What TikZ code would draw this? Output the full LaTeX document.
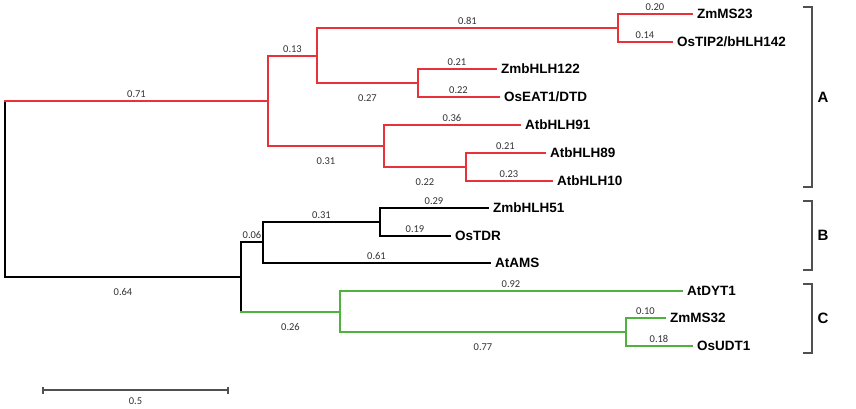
\documentclass[tikz,border=0pt]{standalone}
\usepackage{fontspec}
\setmainfont{Liberation Sans}
\newfontfamily\numfont{Carlito}
\usetikzlibrary{arrows.meta}
\definecolor{cladeA}{RGB}{232,50,58}
\definecolor{cladeC}{RGB}{77,179,61}
\definecolor{brkgray}{RGB}{80,80,80}
\definecolor{numgray}{RGB}{50,50,50}
\newcommand{\branch}[5]{%
  % parent, child, colour, branch length, side of the length (up/down).
  \draw[edge,#3] (#1 |- #2) -- node[#5] (len-#2) {#4} (#2);
}
\newcommand{\spine}[4]{%
  % node, upper child, lower child, colour.
  \draw[edge,#4] (#1 |- #2) -- (#1 |- #3);
}
\begin{document}
\begin{tikzpicture}[x=1pt,y=-1pt,
  edge/.style={line width=1.5pt,line cap=rect},
  leaf/.style={anchor=west,inner xsep=5pt,inner ysep=0pt,text height=9.7pt,text depth=0pt,
    font=\fontsize{13.5}{14}\selectfont\bfseries},
  num/.style={inner sep=0pt,text=numgray,font=\numfont\fontsize{10.5}{11}\selectfont},
  up/.style={num,yshift=7pt},
  down/.style={num,yshift=-15pt},
  bracket/.style={draw=brkgray,line width=1.5pt},
  cladelabel/.style={font=\fontsize{15}{16}\selectfont\bfseries},
  scalebar/.style={draw=brkgray,line width=1.6pt,{Bar[width=7pt]}-{Bar[width=7pt]}}]
  \useasboundingbox (0,0) rectangle (856,408);
  % internal nodes
  \coordinate (root) at (5,189);
  \coordinate (nA) at (268,101);
  \coordinate (n13) at (317,56);
  \coordinate (nMS) at (618,28);
  \coordinate (nEAT) at (418,83);
  \coordinate (n31) at (384,146);
  \coordinate (nBH) at (466,167);
  \coordinate (nBC) at (241,277);
  \coordinate (nB) at (263,242);
  \coordinate (nTDR) at (380,222);
  \coordinate (nC) at (340,312);
  \coordinate (nMS32) at (626,332);
  % leaves
  \foreach \id/\x/\y/\txt in {ZmMS23/692/14/ZmMS23,OsTIP2/672/42/{OsTIP2/bHLH142},
      ZmbHLH122/496/69/ZmbHLH122,OsEAT1/499/97/{OsEAT1/DTD},AtbHLH91/520/125/AtbHLH91,
      AtbHLH89/545/153/AtbHLH89,AtbHLH10/552/181/AtbHLH10,ZmbHLH51/488/208/ZmbHLH51,
      OsTDR/450/236/OsTDR,AtAMS/490/263/AtAMS,AtDYT1/682/291/AtDYT1,
      ZmMS32/665/318/ZmMS32,OsUDT1/692/346/OsUDT1}{%
    \node[leaf] (\id) at (\x,\y) {\txt};
  }
  \foreach \n/\a/\b/\col in {root/nA/nBC/black,nA/n13/n31/cladeA,n13/nMS/nEAT/cladeA,
      nMS/ZmMS23/OsTIP2/cladeA,nEAT/ZmbHLH122/OsEAT1/cladeA,n31/AtbHLH91/nBH/cladeA,
      nBH/AtbHLH89/AtbHLH10/cladeA,nBC/nB/nC/black,nB/nTDR/AtAMS/black,
      nTDR/ZmbHLH51/OsTDR/black,nC/AtDYT1/nMS32/cladeC,nMS32/ZmMS32/OsUDT1/cladeC}{%
    \spine{\n}{\a}{\b}{\col}
  }
  \foreach \p/\c/\col/\len/\side in {root/nA/cladeA/0.71/up,nA/n13/cladeA/0.13/up,
      n13/nMS/cladeA/0.81/up,nMS/ZmMS23/cladeA/0.20/up,nMS/OsTIP2/cladeA/0.14/up,
      n13/nEAT/cladeA/0.27/down,nEAT/ZmbHLH122/cladeA/0.21/up,nEAT/OsEAT1/cladeA/0.22/up,
      nA/n31/cladeA/0.31/down,n31/AtbHLH91/cladeA/0.36/up,n31/nBH/cladeA/0.22/down,
      nBH/AtbHLH89/cladeA/0.21/up,nBH/AtbHLH10/cladeA/0.23/up,
      root/nBC/black/0.64/down,nBC/nB/black/0.06/up,nB/nTDR/black/0.31/up,
      nTDR/ZmbHLH51/black/0.29/up,nTDR/OsTDR/black/0.19/up,nB/AtAMS/black/0.61/up,
      nBC/nC/cladeC/0.26/down,nC/AtDYT1/cladeC/0.92/up,nC/nMS32/cladeC/0.77/down,
      nMS32/ZmMS32/cladeC/0.10/up,nMS32/OsUDT1/cladeC/0.18/up}{%
    \branch{\p}{\c}{\col}{\len}{\side}
  }
  % clade brackets
  \foreach \cl/\ya/\yb in {A/7/187,B/201/270,C/284/353}{%
    \draw[bracket] (803,\ya) -- (812,\ya) -- (812,\yb) -- (803,\yb);
    \node[cladelabel] (cl-\cl) at (823,{(\ya+\yb)/2}) {\cl};
  }
  % scale bar
  \coordinate (bar-l) at (42,390);
  \coordinate (bar-r) at (229,390);
  \draw[scalebar] (bar-l) -- node[num,yshift=-11pt] (bar-len) {0.5} (bar-r);
\end{tikzpicture}
\end{document}
